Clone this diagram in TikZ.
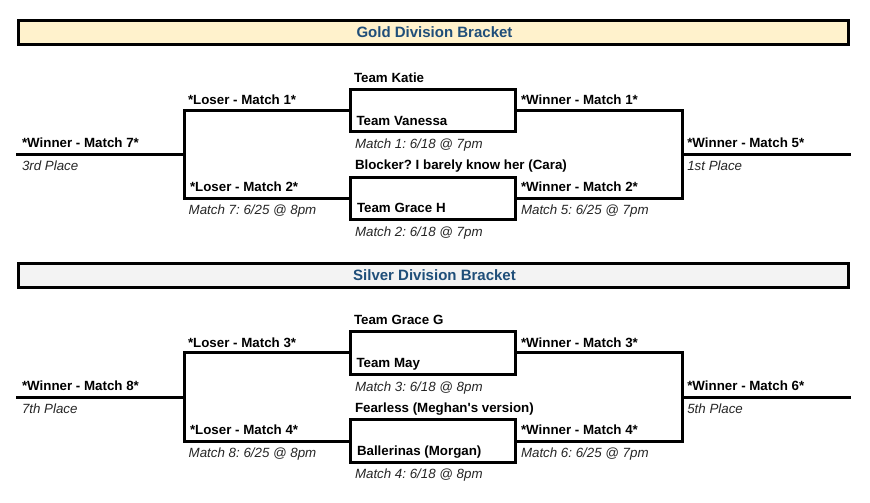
\documentclass[tikz,border=0pt]{standalone}
\usepackage{fontspec}
\setmainfont{Liberation Sans}
\definecolor{goldfill}{HTML}{FFF2CC}
\definecolor{silverfill}{HTML}{F3F3F3}
\definecolor{titleblue}{HTML}{1F4E79}
\frenchspacing
\begin{document}
\begin{tikzpicture}[x=1pt,y=-1pt,
  every node/.style={inner sep=0pt,outer sep=0pt},
  bline/.style={line width=3pt,line join=miter,line cap=rect},
  header/.style={draw,line width=3pt,minimum width=830pt,minimum height=24pt},
  htitle/.style={text=titleblue,font=\fontsize{15}{18}\selectfont\bfseries,anchor=base},
  matchbox/.style={draw,line width=3pt,minimum width=165.2pt,minimum height=42.5pt},
  team/.style={anchor=base west,font=\fontsize{13.33}{16}\selectfont\bfseries},
  info/.style={anchor=base west,text=black!85,font=\fontsize{13.33}{16}\selectfont\itshape}]
\useasboundingbox (0,0) rectangle (870,503);
\fill[white] (0,0) rectangle (870,503);

% ---------- Gold division ----------
\node[header,fill=goldfill] (gh) at (433.5,32.7) {};
\node[htitle] (gt) at (434.5,37.8) {Gold Division Bracket};

\node[matchbox] (m1) at (433.1,110.25) {};
\node[matchbox] (m2) at (433.1,198.5) {};
\coordinate (gl) at (184.5,154.3);
\coordinate (gle) at (17,154.3);
\coordinate (gr) at (682.5,154.3);
\coordinate (gre) at (849,154.3);
\draw[bline] (m1.west) -| (gl) |- (m2.west);
\draw[bline] (gl) -- (gle);
\draw[bline] (m1.east) -| (gr) |- (m2.east);
\draw[bline] (gr) -- (gre);

\node[team] (t1) at (354,82) {Team Katie};
\node[team] (t2) at (356.5,125) {Team Vanessa};
\node[info] (i1) at (355,148.3) {Match 1: 6/18 @ 7pm};
\node[team] (t3) at (355,169.3) {Blocker? I barely know her (Cara)};
\node[team] (t4) at (357,212.7) {Team Grace H};
\node[info] (i2) at (355,236) {Match 2: 6/18 @ 7pm};
\node[team] (l1) at (188,104.3) {*Loser - Match 1*};
\node[team] (l2) at (190,191.7) {*Loser - Match 2*};
\node[info] (i7) at (188.7,214.3) {Match 7: 6/25 @ 8pm};
\node[team] (w1) at (521,104.3) {*Winner - Match 1*};
\node[team] (w2) at (521,191.7) {*Winner - Match 2*};
\node[info] (i5) at (521,214.3) {Match 5: 6/25 @ 7pm};
\node[team] (w7) at (22,147.7) {*Winner - Match 7*};
\node[info] (p3) at (22,170.7) {3rd Place};
\node[team] (w5) at (687.3,147.7) {*Winner - Match 5*};
\node[info] (p1) at (687.3,170.7) {1st Place};

% ---------- Silver division ----------
\begin{scope}[yshift=-242.7pt]
\node[header,fill=silverfill] (sh) at (433.5,32.7) {};
\node[htitle] (st) at (434.5,37.8) {Silver Division Bracket};

\node[matchbox] (m3) at (433.1,110.25) {};
\node[matchbox] (m4) at (433.1,198.5) {};
\coordinate (sl) at (184.5,154.3);
\coordinate (sle) at (17,154.3);
\coordinate (sr) at (682.5,154.3);
\coordinate (sre) at (849,154.3);
\draw[bline] (m3.west) -| (sl) |- (m4.west);
\draw[bline] (sl) -- (sle);
\draw[bline] (m3.east) -| (sr) |- (m4.east);
\draw[bline] (sr) -- (sre);

\node[team] (t5) at (354,82) {Team Grace G};
\node[team] (t6) at (356.5,125) {Team May};
\node[info] (i3) at (355,148.3) {Match 3: 6/18 @ 8pm};
\node[team] (t7) at (355,169.3) {Fearless (Meghan\textquotesingle s version)};
\node[team] (t8) at (357,212.7) {Ballerinas (Morgan)};
\node[info] (i4) at (355,236) {Match 4: 6/18 @ 8pm};
\node[team] (l3) at (188,104.3) {*Loser - Match 3*};
\node[team] (l4) at (190,191.7) {*Loser - Match 4*};
\node[info] (i8) at (188.7,214.3) {Match 8: 6/25 @ 8pm};
\node[team] (w3) at (521,104.3) {*Winner - Match 3*};
\node[team] (w4) at (521,191.7) {*Winner - Match 4*};
\node[info] (i6) at (521,214.3) {Match 6: 6/25 @ 7pm};
\node[team] (w8) at (22,147.7) {*Winner - Match 8*};
\node[info] (p7) at (22,170.7) {7th Place};
\node[team] (w6) at (687.3,147.7) {*Winner - Match 6*};
\node[info] (p5) at (687.3,170.7) {5th Place};
\end{scope}
\end{tikzpicture}
\end{document}
